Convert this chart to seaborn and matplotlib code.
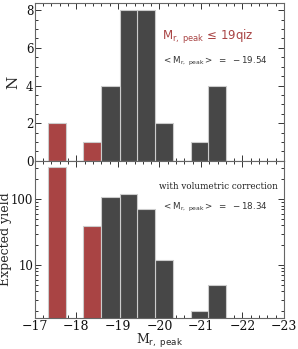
import numpy as np
import pandas as pd
import seaborn as sns
import matplotlib.pyplot as plt
from matplotlib.ticker import MultipleLocator, LogLocator, NullFormatter

# bin edges in M_r,peak
edges = [-17.32, -17.75, -18.17, -18.60, -19.04, -19.47, -19.90, -20.32, -20.75, -21.17, -21.60]
counts = [2, 0, 1, 4, 8, 8, 2, 0, 1, 4]
yield_ = [305, 0, 38.5, 109, 120, 70.6, 12, 0, 2.0, 5.0]
is_qiz = [True, False, True, False, False, False, False, False, False, False]

red = "#a94444"
dark = "#474747"

sns.set_style("white")
plt.rcParams["font.family"] = ["DejaVu Serif"]
plt.rcParams["mathtext.fontset"] = "dejavusans"

centers = [(edges[i] + edges[i + 1]) / 2 for i in range(len(counts))]
df = pd.DataFrame({"M": centers, "N": counts, "Y": yield_, "qiz": is_qiz})
bins = sorted(edges)

fig = plt.figure(figsize=(2.98, 3.49), dpi=100)
ax1 = fig.add_axes([0.117, 0.539, 0.836, 0.452])
ax2 = fig.add_axes([0.117, 0.089, 0.836, 0.450])

for ax, col in [(ax1, "N"), (ax2, "Y")]:
    for flag, c in [(True, red), (False, dark)]:
        sub = df[df["qiz"] == flag]
        sns.histplot(x=sub["M"], weights=sub[col], bins=bins, color=c, alpha=1,
                     edgecolor="#cccccc", linewidth=0.8, ax=ax)
    ax.set_xlim(-17, -23)
    ax.xaxis.set_major_locator(MultipleLocator(1))
    ax.xaxis.set_minor_locator(MultipleLocator(0.2))
    ax.tick_params(which="both", direction="in", bottom=True, left=True, top=True, right=True,
                   color="#333333", labelcolor="#111111", labelsize=9, pad=1.5, width=0.7)
    ax.tick_params(axis="y", labelsize=8.5, pad=1)
    ax.tick_params(which="major", length=4)
    ax.tick_params(which="minor", length=2)
    for s in ax.spines.values():
        s.set_color("#666666")
        s.set_linewidth(0.8)

ax1.set_ylim(0, 8.37)
ax1.yaxis.set_major_locator(MultipleLocator(2))
ax1.yaxis.set_minor_locator(MultipleLocator(0.5))
ax1.set_xticklabels([])
ax1.set_xlabel("")
ax1.set_ylabel("N", fontsize=11)
ax1.yaxis.set_label_coords(-0.06, 0.5)
ax1.text(0.51, 0.77, r"M$_{\rm r,\ peak}$ ≤ 19qiz", transform=ax1.transAxes,
         color=red, fontsize=8.5, family="DejaVu Sans")
ax1.text(0.51, 0.62, r"$<{\rm M_{r,\ peak}}>\ =\ -19.54$", transform=ax1.transAxes,
         color="#333333", fontsize=6.3)

ax2.set_yscale("log")
ax2.set_ylim(1.58, 380)
ax2.yaxis.set_minor_locator(LogLocator(base=10, subs=np.arange(2, 10), numticks=10))
ax2.yaxis.set_minor_formatter(NullFormatter())
ax2.set_yticks([10, 100])
ax2.set_yticklabels(["10", "100"])
ax2.set_ylabel("Expected yield", fontsize=9)
ax2.yaxis.set_label_coords(-0.09, 0.5)
ax2.set_xlabel(r"M$_{\rm r,\ peak}$", fontsize=9, labelpad=-1)
ax2.text(0.50, 0.82, "with volumetric correction", transform=ax2.transAxes,
         color="#222222", fontsize=6.3)
ax2.text(0.51, 0.69, r"$<{\rm M_{r,\ peak}}>\ =\ -18.34$", transform=ax2.transAxes,
         color="#333333", fontsize=6.3)

fig.savefig("out.png", dpi=100)
